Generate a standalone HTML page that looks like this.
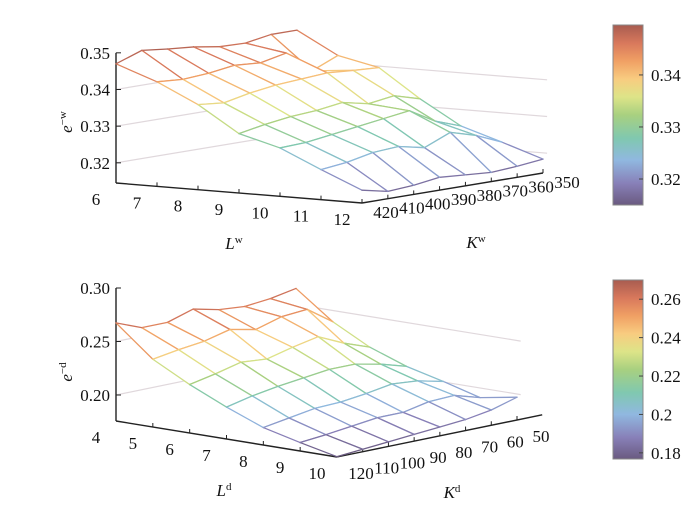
<!DOCTYPE html>
<html><head><meta charset="utf-8">
<style>
html,body{margin:0;padding:0;background:#fff;}
svg text{font-family:"Liberation Serif","DejaVu Serif",serif;fill:#111;}
</style></head>
<body>
<svg id="chart" width="700" height="516" viewBox="0 0 700 516" xmlns="http://www.w3.org/2000/svg" font-family="Liberation Serif, serif">
<defs>
<linearGradient id="cmap" x1="0" y1="1" x2="0" y2="0">
<stop offset="0" stop-color="#6a5a80"/>
<stop offset="0.12" stop-color="#8880b8"/>
<stop offset="0.25" stop-color="#90b8e0"/>
<stop offset="0.37" stop-color="#80c8b0"/>
<stop offset="0.5" stop-color="#a8d080"/>
<stop offset="0.6" stop-color="#dde488"/>
<stop offset="0.7" stop-color="#f8cc80"/>
<stop offset="0.8" stop-color="#f0a064"/>
<stop offset="0.9" stop-color="#d8785c"/>
<stop offset="1" stop-color="#a85c50"/>
</linearGradient>
</defs>
<g id="top"></g>
<g id="bot"></g>
</svg>
<script>
// ---- top chart data ----
const topL = [6,7,8,9,10,11,12];
const topK = [420,410,400,390,380,370,360,350];
const topZ = [
 [0.3470,0.3495,0.3487,0.3481,0.3470,0.3468,0.3480,0.3480],
 [0.3430,0.3425,0.3430,0.3440,0.3435,0.3450,0.3390,0.3420],
 [0.3377,0.3370,0.3385,0.3395,0.3400,0.3405,0.3400,0.3396],
 [0.3307,0.3320,0.3330,0.3335,0.3345,0.3330,0.3340,0.3320],
 [0.3277,0.3280,0.3290,0.3300,0.3310,0.3320,0.3280,0.3255],
 [0.3227,0.3235,0.3250,0.3255,0.3240,0.3270,0.3250,0.3220],
 [0.3180,0.3165,0.3170,0.3180,0.3175,0.3170,0.3175,0.3183]
];
const topZTicks = [0.32,0.33,0.34,0.35];
const topZTickLabels = ["0.32","0.33","0.34","0.35"];
const topCbTicks = [0.32,0.33,0.34];
const topCbLabels = ["0.32","0.33","0.34"];
// ---- bottom chart data ----
const botL = [4,5,6,7,8,9,10];
const botK = [120,110,100,90,80,70,60,50];
const botZ = [
 [0.2674,0.2580,0.2580,0.2655,0.2600,0.2580,0.2604,0.2650],
 [0.2390,0.2430,0.2460,0.2520,0.2470,0.2540,0.2560,0.2395],
 [0.2210,0.2260,0.2320,0.2300,0.2360,0.2410,0.2300,0.2214],
 [0.2055,0.2110,0.2150,0.2180,0.2210,0.2210,0.2160,0.2090],
 [0.1920,0.1960,0.2000,0.2010,0.2040,0.2080,0.2060,0.2005],
 [0.1836,0.1860,0.1890,0.1920,0.1920,0.1970,0.1980,0.1910],
 [0.1760,0.1780,0.1800,0.1820,0.1840,0.1860,0.1900,0.1970]
];
const botZTicks = [0.20,0.25,0.30];
const botZTickLabels = ["0.20","0.25","0.30"];
const botCbTicks = [0.18,0.20,0.22,0.24,0.26];
const botCbLabels = ["0.18","0.2","0.22","0.24","0.26"];

const NS="http://www.w3.org/2000/svg";
const FONT='"Liberation Serif","DejaVu Serif",serif';
const FS=17;
const stops=[[0,[106,90,128]],[0.12,[136,128,184]],[0.25,[144,184,224]],[0.37,[128,200,176]],[0.5,[168,208,128]],[0.6,[221,228,136]],[0.7,[248,204,128]],[0.8,[240,160,100]],[0.9,[216,120,92]],[1,[168,92,80]]];
function cmap(t){t=Math.max(0,Math.min(1,t));for(let i=1;i<stops.length;i++){if(t<=stops[i][0]){const a=stops[i-1],b=stops[i];const f=(t-a[0])/(b[0]-a[0]);const c=a[1].map((v,j)=>Math.round(v+(b[1][j]-v)*f));return `rgb(${c[0]},${c[1]},${c[2]})`;}}return "rgb(168,92,80)";}
function mk(parent,tag,attrs,text){const e=document.createElementNS(NS,tag);for(const k in attrs)e.setAttribute(k,attrs[k]);if(tag==='text')e.setAttribute('font-family',FONT);if(text!==undefined)e.textContent=text;parent.appendChild(e);return e;}

function draw(g,c){
  const Lmin=c.L[0],Lmax=c.L[c.L.length-1],K0=c.K[0],K1=c.K[c.K.length-1];
  function P(L,K,z){const a=(L-Lmin)/(Lmax-Lmin),b=(K-K0)/(K1-K0);
    return [c.ox+a*c.Lv[0]+b*c.Kv[0], c.oy+a*c.Lv[1]+b*c.Kv[1]-(z-c.zf)*c.s];}
  const col=z=>cmap((z-c.cbMin)/(c.cbMax-c.cbMin));
  c.zt.slice(0,-1).forEach(z=>{
    let p=P(Lmin,K0,z),q=P(Lmin,K1,z);
    let l=mk(g,'line',{x1:p[0],y1:p[1],x2:q[0],y2:q[1],stroke:'#e0d8dc','stroke-width':1.2});
    
    
    p=P(Lmin,K1,z);q=P(Lmax+c.wallExt,K1,z);
    l=mk(g,'line',{x1:p[0],y1:p[1],x2:q[0],y2:q[1],stroke:'#e0d8dc','stroke-width':1.2});
    
    
  });
  const ax=mk(g,'g',{});
  
  
  let o=P(Lmin,K0,c.zf),e=P(Lmax,K0,c.zf),kEnd=P(Lmax,K0+(K1-K0)*c.kExt,c.zf);
  mk(ax,'line',{x1:o[0],y1:o[1],x2:e[0],y2:e[1],stroke:'#222','stroke-width':1.4});
  mk(ax,'line',{x1:e[0],y1:e[1],x2:kEnd[0],y2:kEnd[1],stroke:'#222','stroke-width':1.4});
  const top=P(Lmin,K0,c.zTop);
  mk(ax,'line',{x1:o[0],y1:o[1],x2:top[0],y2:top[1],stroke:'#222','stroke-width':1.4});
  c.zt.forEach((z,i)=>{const p=P(Lmin,K0,z);
    mk(ax,'line',{x1:p[0],y1:p[1],x2:p[0]+5,y2:p[1],stroke:'#222','stroke-width':1});
    const t=mk(ax,'text',{x:p[0]-6,y:p[1]+6,'font-size':FS,'text-anchor':'end'},c.ztl[i]);
    
    
  });
  c.L.forEach(L=>{const p=P(L,K0,c.zf);
    mk(ax,'line',{x1:p[0],y1:p[1],x2:p[0],y2:p[1]-4,stroke:'#222','stroke-width':1});
    const t=mk(ax,'text',{x:p[0]-20,y:p[1]+22,'font-size':FS,'text-anchor':'middle'},String(L));
    
    
  });
  c.K.forEach(K=>{const p=P(Lmax,K,c.zf);
    mk(ax,'line',{x1:p[0],y1:p[1],x2:p[0],y2:p[1]-4,stroke:'#222','stroke-width':1});
    const t=mk(ax,'text',{x:p[0]+c.kOff[0],y:p[1]+c.kOff[1]+6,'font-size':FS,'text-anchor':'middle'},String(K));
    
    
  });
  const quads=[];
  for(let i=0;i<c.L.length-1;i++)for(let j=0;j<c.K.length-1;j++)quads.push([i,j]);
  quads.sort((a,b)=>(a[0]-a[1])-(b[0]-b[1]));
  const mesh=mk(g,'g',{});
  
  
  quads.forEach(([i,j])=>{
    const pts=[[i,j],[i+1,j],[i+1,j+1],[i,j+1]];
    const xy=pts.map(([a,b])=>P(c.L[a],c.K[b],c.Z[a][b]));
    const poly=mk(mesh,'polygon',{points:xy.map(p=>p.join(',')).join(' '),fill:'#fff',stroke:'none'});
    
    
    for(let k=0;k<4;k++){const a=pts[k],b=pts[(k+1)%4];
      const zm=(c.Z[a[0]][a[1]]+c.Z[b[0]][b[1]])/2;
      mk(mesh,'line',{x1:xy[k][0],y1:xy[k][1],x2:xy[(k+1)%4][0],y2:xy[(k+1)%4][1],stroke:col(zm),'stroke-width':1.3,'stroke-linecap':'round'});
    }
  });
  const cb=mk(g,'g',{});
  
  
  mk(cb,'rect',{x:613,y:c.cbY0,width:30,height:c.cbY1-c.cbY0,fill:'url(#cmap)',stroke:'#888','stroke-width':1});
  const cy=z=>c.cbY1-(z-c.cbMin)/(c.cbMax-c.cbMin)*(c.cbY1-c.cbY0);
  c.cbt.forEach((z,i)=>{const y=cy(z);
    mk(cb,'line',{x1:639,y1:y,x2:643,y2:y,stroke:'#444','stroke-width':1});
    const t=mk(cb,'text',{x:651,y:y+6,'font-size':FS},c.cbl[i]);
    
    
  });
  let t=mk(g,'text',{x:c.lt[0],y:c.lt[1],'font-size':FS,'font-style':'italic','text-anchor':'middle'});
  
  
  t.innerHTML='L<tspan font-size="11" font-style="normal" dy="-6">'+c.sup+'</tspan>';
  t=mk(g,'text',{x:c.kt[0],y:c.kt[1],'font-size':FS,'font-style':'italic','text-anchor':'middle'});
  
  
  t.innerHTML='K<tspan font-size="11" font-style="normal" dy="-6">'+c.sup+'</tspan>';
  t=mk(g,'text',{x:0,y:0,'font-size':FS,'font-style':'italic','text-anchor':'middle',transform:`translate(${c.yt[0]},${c.yt[1]}) rotate(-90)`});
  
  
  t.innerHTML='e<tspan font-size="11" font-style="normal" dy="-6">−'+c.sup+'</tspan>';
}
draw(document.getElementById('top'),{L:topL,K:topK,Z:topZ,zt:topZTicks,ztl:topZTickLabels,cbt:topCbTicks,cbl:topCbLabels,
  ox:116,oy:183,Lv:[246,20],Kv:[181,-30],zf:0.3145,s:3667,zTop:0.35,kExt:1,wallExt:0.1,kOff:[24,9],
  cbMin:0.315,cbMax:0.3496,cbY0:25,cbY1:205,lt:[234,249],kt:[476,248],yt:[72,122],sup:'w'});
draw(document.getElementById('bot'),{L:botL,K:botK,Z:botZ,zt:botZTicks,ztl:botZTickLabels,cbt:botCbTicks,cbl:botCbLabels,
  ox:116,oy:421,Lv:[221,36],Kv:[180,-37],zf:0.1757,s:1070,zTop:0.30,kExt:1.14,wallExt:0.1,kOff:[24,16],
  cbMin:0.1768,cbMax:0.27,cbY0:280,cbY1:459,lt:[224,496],kt:[452,498],yt:[72,372],sup:'d'});
</script>
</body></html>
